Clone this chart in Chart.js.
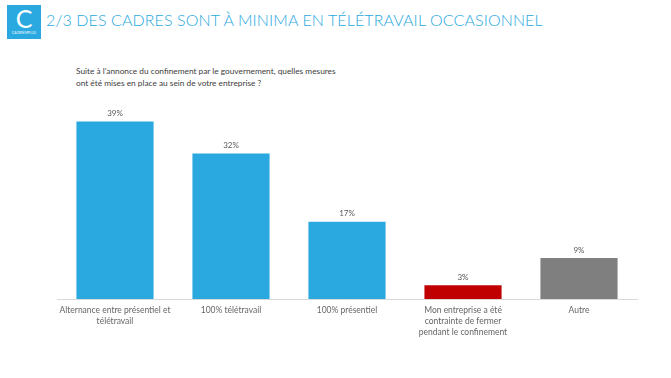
<!DOCTYPE html>
<html>
<head>
<meta charset="utf-8">
<script src="https://cdn.jsdelivr.net/npm/chart.js@4"></script>
<style>
  body { margin: 0; width: 671px; height: 378px; background: #fff; position: relative; overflow: hidden; font-family: Lato, "Open Sans", sans-serif; }
  .logo { position: absolute; left: 7px; top: 5px; width: 34px; height: 34px; background: #29a9e0; color: #fff; text-align: center; }
  .logo .big { font-size: 25px; line-height: 26px; font-weight: 400; }
  .logo .small { font-size: 3.5px; line-height: 5px; letter-spacing: 0.2px; }
  .title { position: absolute; left: 46px; top: 10px; font-size: 16px; font-weight: 300; color: #29a9e0; letter-spacing: 0.1px; white-space: nowrap; }
  .subtitle { position: absolute; left: 76px; top: 66px; font-size: 8.3px; line-height: 11.5px; color: #404040; white-space: nowrap; }
  #wrap { position: absolute; left: 0; top: 0; width: 671px; height: 378px; }
</style>
</head>
<body>
<div class="logo"><div class="big">C</div><div class="small">CADREMPLOI</div></div>
<div class="title">2/3 DES CADRES SONT À MINIMA EN TÉLÉTRAVAIL OCCASIONNEL</div>
<div class="subtitle">Suite à l’annonce du confinement par le gouvernement, quelles mesures<br>ont été mises en place au sein de votre entreprise ?</div>
<div id="wrap"><canvas id="chart"></canvas></div>
<script>
const categories = [
  ["Alternance entre présentiel et", "télétravail"],
  "100% télétravail",
  "100% présentiel",
  ["Mon entreprise a été", "contrainte de fermer", "pendant le confinement"],
  "Autre"
];
const values = [39, 32, 17, 3, 9];
const barColors = ["#29a9e0", "#29a9e0", "#29a9e0", "#c00000", "#7f7f7f"];

const valueLabels = {
  id: "valueLabels",
  afterDatasetsDraw(chart) {
    const ctx = chart.ctx;
    const meta = chart.getDatasetMeta(0);
    ctx.save();
    ctx.font = "8px Lato, 'Open Sans', sans-serif";
    ctx.fillStyle = "#595959";
    ctx.textAlign = "center";
    ctx.textBaseline = "bottom";
    meta.data.forEach((bar, i) => {
      ctx.fillText(values[i] + "%", bar.x, bar.y - 4);
    });
    ctx.restore();
  }
};

new Chart(document.getElementById("chart"), {
  type: "bar",
  data: {
    labels: categories,
    datasets: [{
      data: values,
      backgroundColor: barColors,
      barPercentage: 0.665,
      categoryPercentage: 1
    }]
  },
  options: {
    responsive: true,
    maintainAspectRatio: false,
    animation: false,
    layout: { padding: { left: 57, right: 34, top: 117, bottom: 0 } },
    plugins: { legend: { display: false }, tooltip: { enabled: false } },
    scales: {
      x: {
        grid: { display: false, drawTicks: false },
        border: { color: "#d9d9d9", width: 1 },
        ticks: {
          color: "#666666",
          font: { family: "Lato, 'Open Sans', sans-serif", size: 8.5, lineHeight: 1.3 },
          padding: 6,
          maxRotation: 0,
          autoSkip: false
        },
        afterFit: (scale) => { scale.height = 79; }
      },
      y: {
        display: false,
        min: 0,
        max: 40
      }
    }
  },
  plugins: [valueLabels]
});
</script>
</body>
</html>
